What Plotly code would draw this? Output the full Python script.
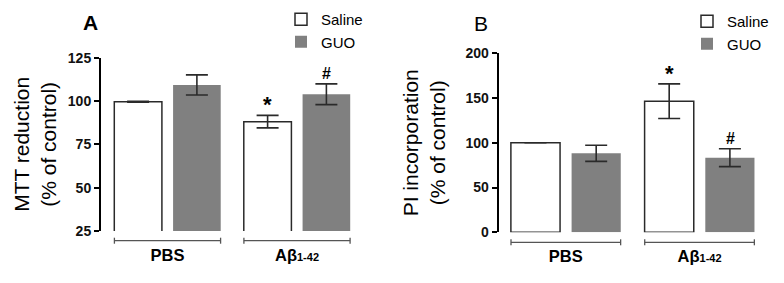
import plotly.graph_objects as go

groups = ["PBS", "Aβ1-42"]
group_labels = ["<b>PBS</b>", "<b>Aβ<span style='font-size:11px'>1-42</span></b>"]
series = ["Saline", "GUO"]

mtt_saline = [99.6, 88.1]
mtt_saline_err = [0.3, 3.6]
mtt_guo = [109.3, 103.9]
mtt_guo_err = [5.8, 6.0]

pi_saline = [100.0, 146.5]
pi_saline_err = [0.0, 19.3]
pi_guo = [88.3, 83.4]
pi_guo_err = [9.0, 10.0]

mtt_marks = {"Saline": ["", "*"], "GUO": ["", "#"]}
pi_marks = {"Saline": ["", "*"], "GUO": ["", "#"]}

FONT = "Liberation Sans, Arial, sans-serif"
EDGE = "#2a2a2a"
GRAY = "#808080"

fig = go.Figure()
xs = [0, 1]

def add_pair(sal, sal_e, guo, guo_e, xa, ya, leg):
    fig.add_bar(x=xs, y=sal, name="Saline", xaxis=xa, yaxis=ya, legend=leg,
                marker=dict(color="white", line=dict(color=EDGE, width=1.5)),
                error_y=dict(type="data", array=sal_e, color=EDGE, thickness=1.6, width=11))
    fig.add_bar(x=xs, y=guo, name="GUO", xaxis=xa, yaxis=ya, legend=leg,
                marker=dict(color=GRAY, line=dict(color=GRAY, width=0)),
                error_y=dict(type="data", array=guo_e, color=EDGE, thickness=1.6, width=11))

add_pair(mtt_saline, mtt_saline_err, mtt_guo, mtt_guo_err, "x", "y", "legend")
add_pair(pi_saline, pi_saline_err, pi_guo, pi_guo_err, "x2", "y2", "legend2")

tickfont = dict(family=FONT, size=14, color="#111", weight="bold")
yax = dict(showline=True, linecolor="black", linewidth=2, ticks="outside", ticklen=5,
           tickwidth=2, tickcolor="black", showgrid=False, zeroline=False,
           tickfont=tickfont, title_font=dict(family=FONT, size=21, color="black"))
xax = dict(showline=False, ticks="", showgrid=False, zeroline=False,
           tickvals=xs, ticktext=group_labels, ticklabelstandoff=12,
           tickfont=dict(family=FONT, size=16.5, color="black"))

fig.update_layout(
    width=784, height=283, margin=dict(l=0, r=0, t=0, b=0, autoexpand=False),
    paper_bgcolor="white", plot_bgcolor="white",
    barmode="group", bargap=0.092, bargroupgap=0.19,
    showlegend=True,
    xaxis=dict(domain=[101/784, 360/784], range=[-0.5135, 1.4865], anchor="y", **xax),
    yaxis=dict(domain=[52/283, 225.3/283], range=[25, 125], tickvals=[25, 50, 75, 100, 125],
               anchor="x", title=dict(text="MTT reduction<br>(% of control)", standoff=5), **yax),
    xaxis2=dict(domain=[498.7/784, 770/784], range=[-0.502, 1.527], anchor="y2", **xax),
    yaxis2=dict(domain=[50.7/283, 229.7/283], range=[0, 200], tickvals=[0, 50, 100, 150, 200],
                anchor="x2", title=dict(text="PI incorporation<br>(% of control)", standoff=14), **yax),
    legend=dict(x=281/784, y=1 - 3/283, xanchor="left", yanchor="top",
                font=dict(family=FONT, size=15, color="black"), bgcolor="rgba(0,0,0,0)",
                tracegroupgap=0, itemclick=False),
    legend2=dict(x=687/784, y=1 - 5/283, xanchor="left", yanchor="top",
                 font=dict(family=FONT, size=15, color="black"), bgcolor="rgba(0,0,0,0)",
                 tracegroupgap=2, itemclick=False),
)

# panel letters
fig.add_annotation(text="<b>A</b>", x=90.7/784, y=1 - 22.5/283, xref="paper", yref="paper",
                   xanchor="center", yanchor="middle",
                   showarrow=False, font=dict(family=FONT, size=21, color="black"))
fig.add_annotation(text="B", x=481/784, y=1 - 23/283, xref="paper", yref="paper",
                   xanchor="center", yanchor="middle",
                   showarrow=False, font=dict(family=FONT, size=21, color="black"))

# group brackets under each category
half = 0.41
for xa, ypix in (("x", 240.7), ("x2", 242.3)):
    yp = 1 - ypix / 283
    for i in xs:
        fig.add_shape(type="line", xref=xa, yref="paper", x0=i - half, x1=i + half, y0=yp, y1=yp,
                      line=dict(color="#555", width=1.3))
        for xe in (i - half, i + half):
            fig.add_shape(type="line", xref=xa, yref="paper", x0=xe, x1=xe,
                          y0=yp - 3/283, y1=yp + 3/283, line=dict(color="#555", width=1.3))

# significance marks above error bars
def add_marks(marks, sal, sal_e, guo, guo_e, xa, ya, shift):
    for s in series:
        vals, errs = (sal, sal_e) if s == "Saline" else (guo, guo_e)
        for i in xs:
            t = marks[s][i]
            if not t:
                continue
            fig.add_annotation(text=f"<b>{t}</b>", x=i, y=vals[i] + errs[i], xref=xa, yref=ya,
                               xshift=(-shift if s == "Saline" else shift),
                               yshift=(-4 if t == "*" else 0),
                               yanchor="bottom", showarrow=False,
                               font=dict(family=FONT, size=22 if t == "*" else 16, color="black"))

add_marks(mtt_marks, mtt_saline, mtt_saline_err, mtt_guo, mtt_guo_err, "x", "y", 29.5)
add_marks(pi_marks, pi_saline, pi_saline_err, pi_guo, pi_guo_err, "x2", "y2", 30.5)

fig.write_html("out.html", config={"displayModeBar": False},
               post_script="document.body.style.margin='0';")
